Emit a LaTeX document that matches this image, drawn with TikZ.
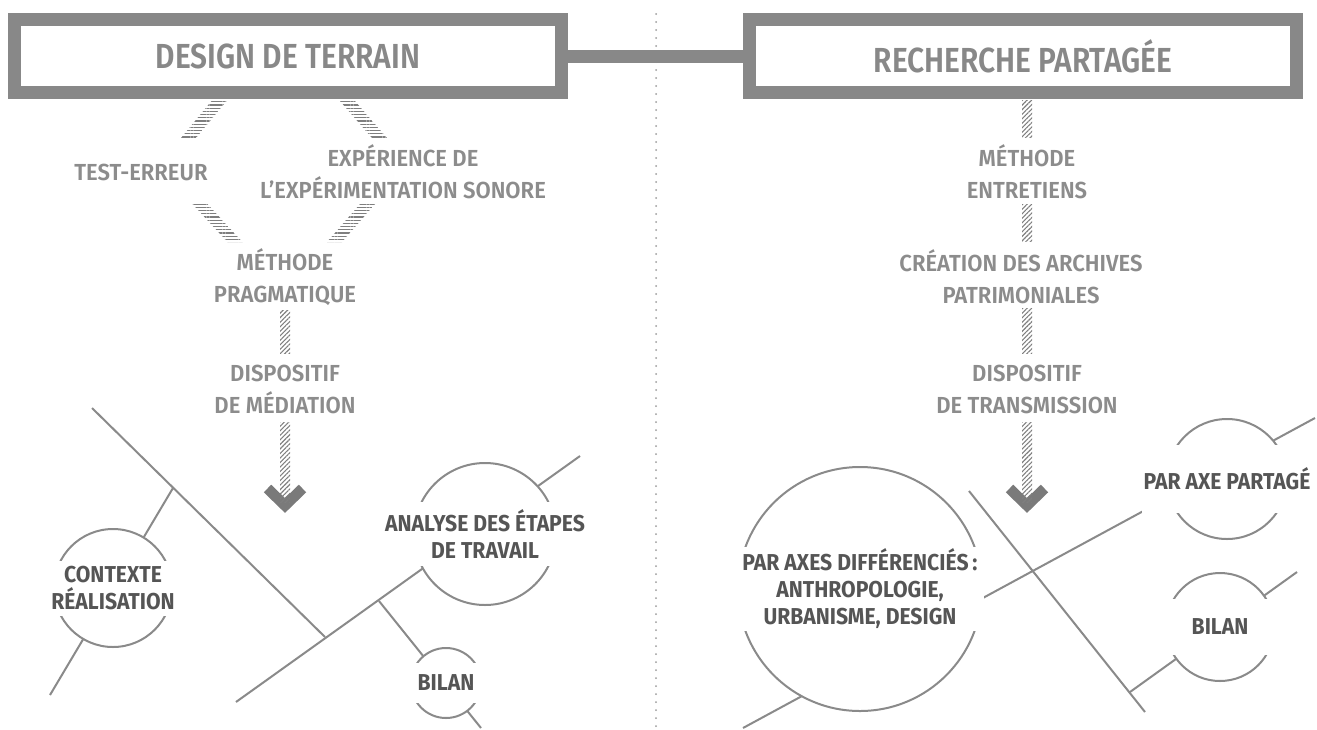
\documentclass[tikz,border=0pt]{standalone}
\usepackage{fontspec}
\setmainfont{Fira Sans}[FakeStretch=0.86]
\newfontfamily\stepfont{Fira Sans SemiBold}[FakeStretch=0.86]
\newfontfamily\smallstepfont{Fira Sans SemiBold}[FakeStretch=0.95]
\newfontfamily\inkfont{Fira Sans Bold}[FakeStretch=0.92]
\usepackage{tikz}
\usetikzlibrary{calc}
\usetikzlibrary{patterns.meta}

\definecolor{boxgray}{HTML}{888888}
\definecolor{txtgray}{HTML}{8C8C8C}
\definecolor{inkgray}{HTML}{555555}
\definecolor{linegray}{HTML}{8A8A8A}
\definecolor{hatchgray}{HTML}{7F7F7F}
\definecolor{chevgray}{HTML}{7A7A7A}
\definecolor{dotgray}{HTML}{9A9A9A}

\tikzset{
  titlebox/.style={draw=boxgray, line width=6.5pt, minimum width=273.5pt, minimum height=36.5pt,
    inner sep=0pt, text=boxgray, font=\stepfont\fontsize{17.4}{20}\selectfont},
  steplabel/.style={text=txtgray, align=center, inner sep=0pt, font=\smallstepfont\fontsize{11.6}{16}\selectfont},
  ring/.style={circle, draw=linegray, line width=1pt, fill=white, inner sep=0pt},
  ringlabel/.style={fill=white, text=inkgray, align=center, inner sep=1pt,
    font=\inkfont\fontsize{11.5}{13.5}\selectfont},
  bone/.style={draw=linegray, line width=1pt},
  linkbar/.style={draw=boxgray, line width=6.5pt},
  divider/.style={draw=dotgray, line width=1pt, line cap=round, dash pattern=on 0pt off 4pt},
  chevron/.style={draw=chevgray, line width=5.3pt, line join=miter},
}

% band of short strokes between two points
\newcommand\hatchband[4]{%
  \fill[pattern={Lines[angle=#3,distance=1.6pt,line width=0.55pt]}, pattern color=hatchgray]
    ($(#1)+(-#4,0)$) -- ($(#1)+(#4,0)$) -- ($(#2)+(#4,0)$) -- ($(#2)+(-#4,0)$) -- cycle;}

\begin{document}
\begin{tikzpicture}[x=0.5pt, y=-0.5pt]
\useasboundingbox (0,0) rectangle (1317,729);

% middle divider
\draw[divider] (656,14) -- (656,729);

% the two headings
\node[titlebox] (terrain) at (288,56) {DESIGN DE TERRAIN};
\node[titlebox] (partage) at (1023,56) {RECHERCHE PARTAGÉE};
\draw[linkbar] (terrain.east) -- (partage.west);

% steps
\node[steplabel] (test) at (141,172) {TEST-ERREUR};
\node[steplabel] (sonore) at (403,172) {EXPÉRIENCE DE\\L’EXPÉRIMENTATION SONORE};
\node[steplabel] (pragma) at (285,277) {MÉTHODE\\PRAGMATIQUE};
\node[steplabel] (mediation) at (285,389) {DISPOSITIF\\DE MÉDIATION};
\node[steplabel] (entretiens) at (1027,172) {MÉTHODE\\ENTRETIENS};
\node[steplabel] (archives) at (1021,277) {CRÉATION DES ARCHIVES\\PATRIMONIALES};
\node[steplabel] (transmission) at (1027,389) {DISPOSITIF\\DE TRANSMISSION};

% arrow heads
\foreach \cx in {285,1027}
  \draw[chevron] (\cx-17.5,488.5) -- (\cx,505.5) -- (\cx+17.5,488.5);

% hatched links
\coordinate (hA1) at (219,101);   \coordinate (hA2) at (188.5,138);
\coordinate (hB1) at (347.5,101); \coordinate (hB2) at (379.5,138);
\coordinate (hC1) at (200,204);   \coordinate (hC2) at (235,242);
\coordinate (hD1) at (367.5,204); \coordinate (hD2) at (334.5,242);
\coordinate (hE1) at (285,310);   \coordinate (hE2) at (285,353);
\coordinate (hF1) at (285,422);   \coordinate (hF2) at (285,502);
\coordinate (hG1) at (1027,100);  \coordinate (hG2) at (1027,137);
\coordinate (hH1) at (1027,204);  \coordinate (hH2) at (1027,241);
\coordinate (hI1) at (1027,308);  \coordinate (hI2) at (1027,353);
\coordinate (hJ1) at (1027,422);  \coordinate (hJ2) at (1027,502);
\foreach \a/\b/\ang/\hw in {hA1/hA2/0/7.5, hB1/hB2/0/7.5, hC1/hC2/0/7.5, hD1/hD2/0/7.5,
    hE1/hE2/45/5, hF1/hF2/45/5, hG1/hG2/45/5, hH1/hH2/45/5, hI1/hI2/45/5, hJ1/hJ2/45/5}
  \hatchband{\a}{\b}{\ang}{\hw};

% left fishbone
\coordinate (l1a) at (92,408);  \coordinate (l1b) at (325,637);
\coordinate (l2a) at (236,702); \coordinate (l2b) at (580,456);
\coordinate (b1) at (173,488);  \coordinate (b1e) at (50,695);
\coordinate (b2) at (379,601);  \coordinate (b2e) at (481,728);
\draw[bone] (l1a) -- (l1b);
\draw[bone] (l2a) -- (l2b);
\draw[bone] (b1) -- (b1e);
\draw[bone] (b2) -- (b2e);

\node[ring, minimum size=59pt] (ctx) at (113,588) {};
\node[ringlabel, minimum width=61pt, minimum height=27.5pt] (ctx-l) at (ctx) {CONTEXTE\\RÉALISATION};
\node[ring, minimum size=71pt] (analyse) at (485,534) {};
\node[ringlabel, minimum width=73pt, minimum height=32pt] (analyse-l) at (analyse) {ANALYSE DES ÉTAPES\\DE TRAVAIL};
\node[ring, minimum size=35pt] (bilanA) at (446,683) {};
\node[ringlabel, minimum width=37pt, minimum height=20pt] (bilanA-l) at (bilanA) {BILAN};

% right fishbone
\coordinate (l3a) at (743,728);  \coordinate (l3b) at (1315,418);
\coordinate (l4a) at (969,491);  \coordinate (l4b) at (1145,712);
\coordinate (b3) at (1130,692);  \coordinate (b3e) at (1297,572);
\draw[bone] (l3a) -- (l3b);
\draw[bone] (l4a) -- (l4b);
\draw[bone] (b3) -- (b3e);

\node[ring, minimum size=122pt] (axes) at (860,589) {};
\node[ringlabel, minimum width=124pt, minimum height=41.5pt] (axes-l) at (axes) {PAR AXES DIFFÉRENCIÉS\,:\\ANTHROPOLOGIE,\\URBANISME, DESIGN};
\node[ring, minimum size=60pt] (axe) at (1227,479) {};
\node[ringlabel, minimum width=62pt, minimum height=34pt] (axe-l) at (axe) {PAR AXE PARTAGÉ};
\node[ring, minimum size=54pt] (bilanB) at (1220,627) {};
\node[ringlabel, minimum width=56pt, minimum height=28pt] (bilanB-l) at (bilanB) {BILAN};

\end{tikzpicture}
\end{document}
